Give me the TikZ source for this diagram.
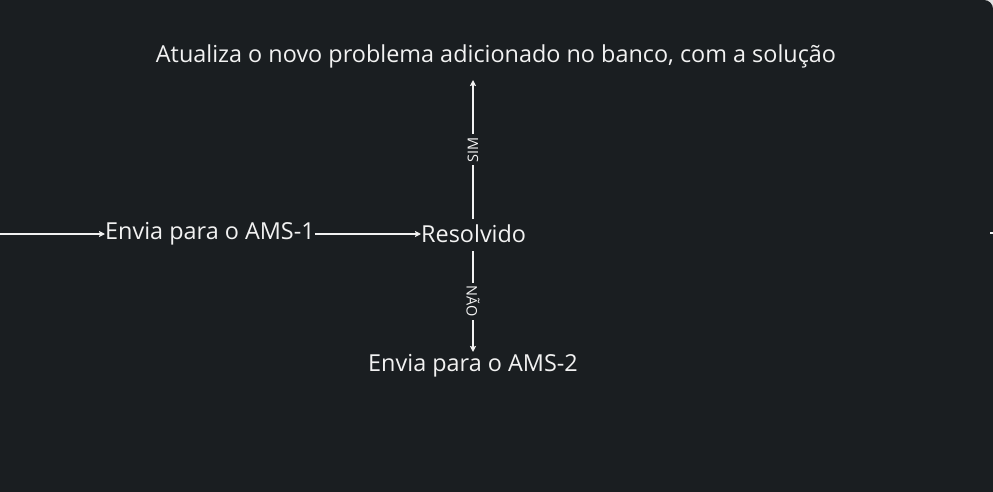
\documentclass[tikz,border=0pt]{standalone}
\usepackage{fontspec}
\setmainfont{Open Sans}
\usetikzlibrary{arrows.meta}
\definecolor{bg}{HTML}{1A1E21}
\definecolor{fg}{HTML}{F2F2F2}
\begin{document}
\begin{tikzpicture}[x=1pt,y=-1pt,
  txt/.style={text=fg,font=\fontsize{23.4}{28}\selectfont,inner sep=0pt},
  lbl/.style={text=fg,font=\fontsize{14.5}{17}\selectfont,fill=bg,inner xsep=3pt,inner ysep=1pt},
  conn/.style={draw=fg,line width=1.4pt,-{Stealth[length=6pt,width=6pt,inset=1pt]}}]
\useasboundingbox (0,0) rectangle (993,492);
\fill[white!88!black] (0,0) rectangle (993,492);
\fill[bg,rounded corners=9pt] (0,492) -- (0,0) -- (993,0) -- (993,492) -- cycle;
\fill[bg] (0,0) rectangle (980,492);
\fill[bg] (0,20) rectangle (993,492);
\node[txt,anchor=west] (ams1) at (105,234) {Envia para o AMS-1};
\node[txt,anchor=west] (res) at (421,234) {Resolvido};
\node[txt] (top) at (496,56) {Atualiza o novo problema adicionado no banco, com a solução};
\node[txt] (ams2) at (473,366) {Envia para o AMS-2};
\coordinate (start) at (0,234);
\coordinate (resup) at (473,219);
\coordinate (resdn) at (473,251);
\coordinate (topb) at (473,80);
\coordinate (ams2t) at (473,352);
\draw[conn] (start) -- (ams1.west);
\draw[conn] (ams1.east) -- (res.west);
\draw[conn] (resup) -- node[lbl,rotate=90] {SIM} (topb);
\draw[conn] (resdn) -- node[lbl,rotate=-90] {NÃO} (ams2t);
\coordinate (edgea) at (990,233);
\coordinate (edgeb) at (993,233);
\draw[fg,line width=1.4pt] (edgea) -- (edgeb);
\end{tikzpicture}
\end{document}
